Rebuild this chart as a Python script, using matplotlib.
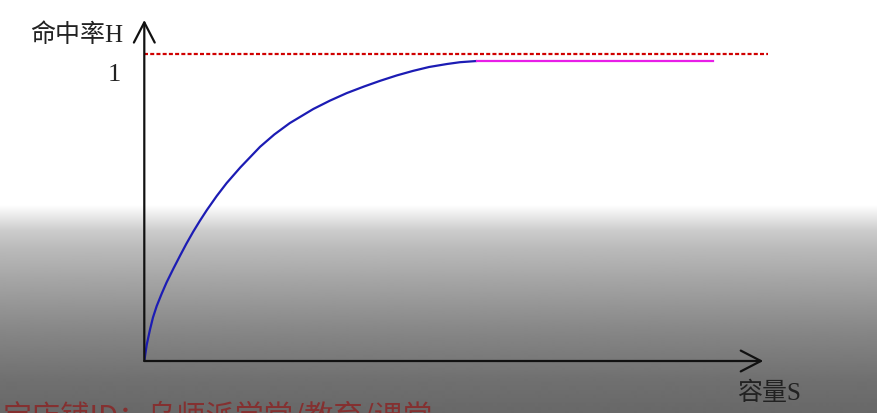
import matplotlib
matplotlib.use('Agg')
import numpy as np
import matplotlib.pyplot as plt

plt.rcParams['font.family'] = ['Liberation Serif', 'Noto Sans CJK SC', 'DejaVu Sans']

# ── data: capacity S (0-100 = arrow tip) vs hit rate H ──
curve_s = [0.0, 0.4, 0.9, 1.4, 2.0, 2.8, 3.6, 4.7, 5.8, 6.8, 7.9, 9.0, 10.1, 11.7,
           13.3, 15.5, 18.7, 21.0, 23.5, 27.3, 30.0, 32.7, 35.5, 38.1, 40.8,
           43.4, 46.0, 48.9, 51.0, 53.7]
curve_h = [0.0, 0.055, 0.103, 0.145, 0.183, 0.224, 0.262, 0.308, 0.352, 0.391,
           0.431, 0.468, 0.503, 0.550, 0.593, 0.645, 0.714, 0.755, 0.793, 0.840,
           0.868, 0.893, 0.915, 0.934, 0.952, 0.967, 0.980, 0.990, 0.996, 1.0]
plateau_s = [53.7, 91.8]
plateau_h = [1.0, 1.0]
limit_s = [0.0, 100.8]
limit_h = [1.025, 1.025]
y_tick = 1
y_label = '命中率H'
x_label = '容量S'
watermark = '宝店铺ID：乌师派学堂/教育/课堂'

W, H = 878, 413
fig = plt.figure(figsize=(W / 100, H / 100), dpi=100)

# video-style grey fade in the lower part of the frame
rows = np.arange(H)
knots_y = [0, 205, 215, 230, 250, 280, 330, 380, 413]
knots_v = [255, 255, 235, 205, 185, 165, 135, 112, 104]
grad = np.interp(rows, knots_y, knots_v)
bg = fig.add_axes([0, 0, 1, 1], zorder=0)
bg.imshow(grad[:, None], cmap='gray', vmin=0, vmax=255, aspect='auto',
          extent=[0, 1, 0, 1], interpolation='bilinear')
bg.axis('off')

# main axes: origin at (144, 361) px, arrow tips at x=763, y=20
x0, y0, x1, y1 = 144.3, 361, 763.3, 20
ax = fig.add_axes([x0 / W, (H - y0) / H, (x1 - x0) / W, (y0 - y1) / H], zorder=1)
ax.patch.set_alpha(0)
ax.set_xlim(0, 100)
ax.set_ylim(0, 1.1367)
for sp in ax.spines.values():
    sp.set_visible(False)
ax.set_xticks([])
ax.set_yticks([])

arrow = dict(arrowstyle='->, head_length=1.45, head_width=0.75', lw=1.6,
             color='#111111', mutation_scale=10, shrinkA=0, shrinkB=0)
ax.annotate('', xy=(1, 0), xytext=(0, 0), xycoords='axes fraction',
            arrowprops=arrow, annotation_clip=False)
ax.annotate('', xy=(0, 1), xytext=(0, 0), xycoords='axes fraction',
            arrowprops=arrow, annotation_clip=False)

ax.plot(limit_s, limit_h, color='#d00000', lw=1.6, linestyle=(0, (1.8, 1.0)),
        clip_on=False)
ax.plot(curve_s, curve_h, color='#1c1cb4', lw=1.6, solid_joinstyle='round',
        solid_capstyle='round')
ax.plot(plateau_s, plateau_h, color='#e81ee8', lw=1.6, clip_on=False)

ax.text(-3.8, 0.953, str(y_tick), fontsize=19, ha='right', va='center',
        color='#222222')
ax.text(-3.4, 1.087, y_label, fontsize=18, ha='right', va='center',
        color='#222222', clip_on=False)
ax.text(95.7, -0.107, x_label, fontsize=18, ha='left', va='center',
        color='#222222', clip_on=False)

# watermark, cut off by the bottom edge as in the reference frame
fig.text(2 / W, (H - 403) / H, watermark, fontsize=21, color='#8a2626',
         alpha=0.85, ha='left', va='top', family=['Noto Sans CJK SC', 'DejaVu Sans'],
         zorder=3)

fig.savefig('out.png', dpi=100)
